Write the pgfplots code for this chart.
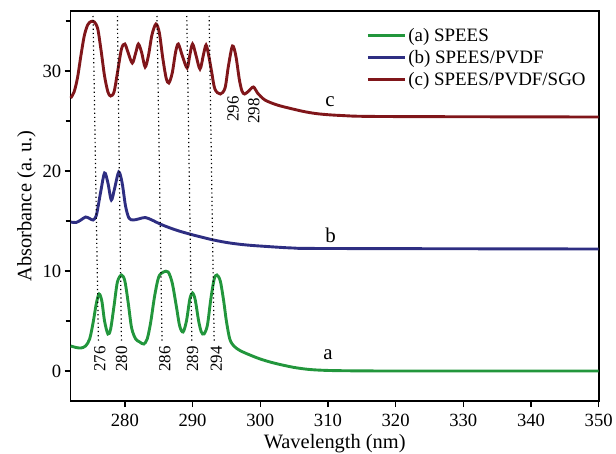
\documentclass[border=0pt]{standalone}
\usepackage{pgfplots}
\pgfplotsset{compat=1.18}
\usepackage{fontspec}
\setmainfont{Liberation Serif}
\definecolor{cA}{RGB}{34,150,60}
\definecolor{cB}{RGB}{46,46,130}
\definecolor{cC}{RGB}{128,22,26}
\begin{document}
\begin{tikzpicture}
\useasboundingbox (-70.7bp,-53bp) rectangle (545.3bp,401bp);
\begin{axis}[
  at={(0,0)}, anchor=south west,
  scale only axis,
  width=528bp, height=390bp,
  xmin=272, xmax=350, ymin=-3, ymax=36,
  xtick={280,290,...,350},
  ytick={0,10,20,30},
  minor ytick={5,15,25,35},
  tick align=outside,
  tick pos=left,
  major tick length=6bp,
  minor tick length=5bp,
  every tick/.style={black, line width=1.4bp},
  axis line style={line width=1.6bp},
  /pgf/number format/assume math mode=true,
  tick label style={font=\fontsize{18.7}{20}\selectfont},
  xticklabel shift=4bp,
  label style={font=\fontsize{20.5}{23}\selectfont},
  xlabel={Wavelength (nm)},
  ylabel={Absorbance (a.\ u.)},
  legend style={draw=none, fill=none, at={(0.56,0.962)}, anchor=north west,
    font=\fontsize{19}{21}\selectfont, row sep=3.5bp, inner sep=0pt,
    cells={anchor=west}},
  legend image code/.code={\draw[#1, line width=2.8bp] (0bp,0bp) -- (37bp,0bp);},
  clip=false,
]
\addplot[cA, line width=2.9bp, smooth] coordinates {
(272.0,2.5) (272.8,2.35) (273.5,2.3) (274.2,2.5) (274.8,3.2) (275.3,4.8) (275.8,6.8) (276.2,7.7)
(276.6,7.0) (277.0,5.0) (277.5,3.7) (277.9,4.2) (278.4,6.5) (278.9,8.9) (279.5,9.6) (280.0,9.0)
(280.5,6.8) (281.0,4.3) (281.6,3.2) (282.2,2.9) (282.8,2.7) (283.3,3.2) (283.8,4.8) (284.4,7.5)
(285.0,9.4) (285.7,9.9) (286.4,9.9) (287.0,8.8) (287.6,6.5) (288.1,4.5) (288.6,3.9) (289.1,5.0)
(289.6,7.2) (290.0,7.8) (290.4,7.1) (290.9,5.0) (291.3,3.9) (291.7,3.7) (292.2,4.6) (292.7,7.2)
(293.2,9.2) (293.6,9.6) (294.1,9.0) (294.6,7.0) (295.0,5.0) (295.5,3.2) (296.1,2.5) (297.0,2.05)
(298.3,1.65) (300,1.2) (302,0.8) (304.8,0.38) (307,0.17) (309,0.08) (312,0.03) (320,0.0) (350,0.0)
};
\addlegendentry{(a) SPEES}
\addplot[cB, line width=2.9bp, smooth] coordinates {
(272.0,14.9) (272.8,14.85) (273.5,15.1) (274.2,15.4) (274.8,15.25) (275.3,15.1) (275.8,15.6)
(276.4,17.8) (277.0,19.8) (277.5,18.8) (278.0,17.1) (278.5,18.3) (279.1,19.9) (279.6,18.8)
(280.1,16.5) (280.6,15.3) (281.2,15.1) (282.0,15.2) (283.0,15.35) (284.0,15.1) (285.2,14.7)
(286.7,14.3) (288.0,14.0) (290.1,13.6) (293.1,13.1) (295.5,12.8) (298.0,12.6) (301,12.45)
(304.8,12.3) (310,12.25) (350,12.2)
};
\addlegendentry{(b) SPEES/PVDF}
\addplot[cC, line width=2.9bp, smooth] coordinates {
(272.0,27.3) (272.5,27.9) (273.0,29.3) (273.5,31.5) (274.0,33.5) (274.5,34.6) (275.0,34.95)
(275.5,34.9) (276.0,34.2) (276.5,32.0) (277.0,29.5) (277.5,27.9) (277.9,27.5) (278.4,27.9)
(278.9,29.8) (279.5,32.2) (280.0,32.7) (280.5,31.8) (281.1,30.8) (281.6,31.8) (282.0,32.7)
(282.5,31.8) (283.0,30.4) (283.5,31.6) (284.0,33.6) (284.6,34.7) (285.1,33.8) (285.6,31.3)
(286.1,29.3) (286.5,28.8) (287.0,29.8) (287.5,31.9) (287.9,32.7) (288.5,31.5) (289.2,30.3)
(289.6,31.6) (290.0,32.7) (290.5,31.6) (291.1,30.2) (291.6,31.6) (292.0,32.6) (292.4,31.5)
(292.8,30.0) (293.3,28.2) (294.1,27.7) (294.8,28.3) (295.3,30.5) (295.9,32.5) (296.4,31.5)
(296.9,29.2) (297.3,28.0) (297.7,27.7) (298.3,28.0) (299.0,28.4) (299.6,27.8) (300.7,27.1)
(302.5,26.6) (304.8,26.2) (306.8,25.9) (308.8,25.7) (312,25.55) (318,25.45) (350,25.4)
};
\addlegendentry{(c) SPEES/PVDF/SGO}
% dotted guide lines
\addplot[black, line width=1.2bp, dash pattern=on 1.2bp off 3bp, forget plot] coordinates {(275.3,35.5) (276.1,2.8)};
\addplot[black, line width=1.2bp, dash pattern=on 1.2bp off 3bp, forget plot] coordinates {(278.9,35.5) (279.5,2.8)};
\addplot[black, line width=1.2bp, dash pattern=on 1.2bp off 3bp, forget plot] coordinates {(284.75,35.5) (285.5,2.8)};
\addplot[black, line width=1.2bp, dash pattern=on 1.2bp off 3bp, forget plot] coordinates {(289.15,35.5) (289.9,2.8)};
\addplot[black, line width=1.2bp, dash pattern=on 1.2bp off 3bp, forget plot] coordinates {(292.45,35.5) (293.2,2.8)};
% peak labels
\begin{scope}[every node/.style={rotate=90, anchor=east, inner sep=0pt, font=\fontsize{17}{18}\selectfont}]
\node at (axis cs:276.3,2.5) {276};
\node at (axis cs:279.5,2.5) {280};
\node at (axis cs:285.9,2.5) {286};
\node at (axis cs:290.0,2.5) {289};
\node at (axis cs:293.5,2.5) {294};
\node at (axis cs:296.0,27.5) {296};
\node at (axis cs:299.05,27.3) {298};
\end{scope}
\node[font=\fontsize{21}{22}\selectfont, inner sep=0pt] at (axis cs:310.3,26.9) {c};
\node[font=\fontsize{21}{22}\selectfont, inner sep=0pt] at (axis cs:310.4,13.6) {b};
\node[font=\fontsize{21}{22}\selectfont, inner sep=0pt] at (axis cs:310.0,1.6) {a};
\end{axis}
\end{tikzpicture}
\end{document}
